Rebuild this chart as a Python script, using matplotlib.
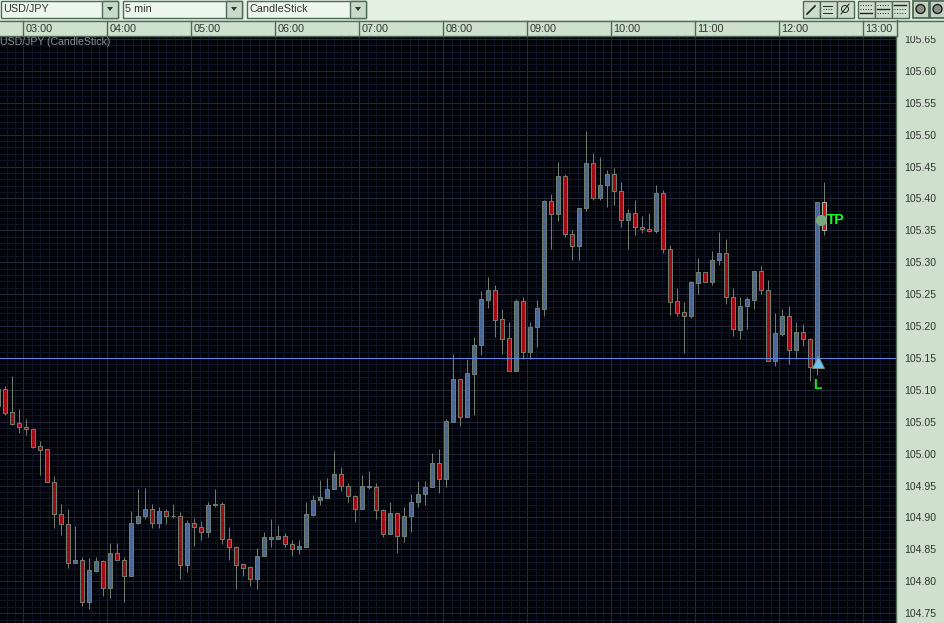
import matplotlib
matplotlib.use('Agg')
import matplotlib.pyplot as plt
import numpy as np
from matplotlib.patches import Rectangle, Circle, Polygon

plt.rcParams['font.family'] = ['Liberation Sans', 'DejaVu Sans']

# bar number of each candle, the first is cut by the left edge
bars = list(range(-1, 118))

opens = [105.074, 105.101, 105.065, 105.048, 105.041, 105.039, 105.012, 105.007, 104.955, 104.905,
         104.889, 104.828, 104.834, 104.767, 104.816, 104.831, 104.789, 104.845, 104.833, 104.809,
         104.892, 104.903, 104.914, 104.892, 104.910, 104.903, 104.903, 104.825, 104.892, 104.885,
         104.878, 104.919, 104.921, 104.867, 104.853, 104.827, 104.822, 104.804, 104.839, 104.867,
         104.867, 104.871, 104.858, 104.850, 104.854, 104.904, 104.928, 104.931, 104.944, 104.968,
         104.950, 104.934, 104.914, 104.947, 104.947, 104.911, 104.874, 104.907, 104.871, 104.903,
         104.924, 104.936, 104.947, 104.985, 104.961, 105.050, 105.117, 105.058, 105.125, 105.171,
         105.241, 105.256, 105.211, 105.181, 105.129, 105.240, 105.160, 105.198, 105.227, 105.396,
         105.375, 105.435, 105.345, 105.325, 105.385, 105.455, 105.401, 105.421, 105.439, 105.411,
         105.366, 105.377, 105.356, 105.352, 105.349, 105.408, 105.320, 105.239, 105.222, 105.216,
         105.268, 105.284, 105.269, 105.303, 105.314, 105.245, 105.194, 105.231, 105.241, 105.287,
         105.256, 105.145, 105.188, 105.215, 105.162, 105.190, 105.179, 105.136, 105.394]

highs = [105.105, 105.106, 105.122, 105.070, 105.054, 105.040, 105.020, 105.007, 104.965, 104.921,
         104.914, 104.887, 104.838, 104.837, 104.838, 104.834, 104.860, 104.860, 104.838, 104.910,
         104.944, 104.946, 104.921, 104.916, 104.914, 104.921, 104.908, 104.896, 104.899, 104.895,
         104.924, 104.944, 104.924, 104.885, 104.856, 104.827, 104.822, 104.852, 104.877, 104.898,
         104.888, 104.875, 104.864, 104.865, 104.924, 104.935, 104.959, 104.962, 105.004, 104.979,
         104.954, 104.935, 104.967, 104.973, 104.954, 104.914, 104.924, 104.907, 104.916, 104.937,
         104.957, 104.957, 105.001, 105.008, 105.054, 105.156, 105.117, 105.148, 105.183, 105.255,
         105.277, 105.264, 105.227, 105.206, 105.242, 105.246, 105.206, 105.241, 105.398, 105.407,
         105.457, 105.438, 105.350, 105.385, 105.506, 105.471, 105.465, 105.444, 105.447, 105.425,
         105.383, 105.398, 105.372, 105.377, 105.421, 105.413, 105.327, 105.259, 105.237, 105.270,
         105.306, 105.284, 105.318, 105.347, 105.337, 105.259, 105.245, 105.245, 105.287, 105.294,
         105.272, 105.220, 105.226, 105.232, 105.206, 105.203, 105.181, 105.394, 105.425]

lows = [105.070, 105.060, 105.045, 105.033, 105.030, 105.009, 104.967, 104.955, 104.883, 104.872,
        104.821, 104.828, 104.762, 104.756, 104.814, 104.777, 104.774, 104.833, 104.768, 104.809,
        104.889, 104.897, 104.884, 104.884, 104.890, 104.899, 104.804, 104.814, 104.856, 104.865,
        104.870, 104.917, 104.859, 104.834, 104.788, 104.808, 104.793, 104.788, 104.839, 104.854,
        104.867, 104.853, 104.839, 104.843, 104.854, 104.903, 104.919, 104.931, 104.944, 104.942,
        104.924, 104.893, 104.914, 104.944, 104.898, 104.870, 104.874, 104.845, 104.861, 104.877,
        104.917, 104.919, 104.947, 104.939, 104.947, 105.050, 105.044, 105.058, 105.060, 105.155,
        105.228, 105.183, 105.156, 105.129, 105.129, 105.149, 105.149, 105.167, 105.216, 105.320,
        105.364, 105.339, 105.304, 105.304, 105.381, 105.397, 105.397, 105.386, 105.390, 105.356,
        105.320, 105.342, 105.346, 105.347, 105.346, 105.315, 105.218, 105.216, 105.158, 105.212,
        105.251, 105.269, 105.264, 105.295, 105.235, 105.185, 105.179, 105.195, 105.226, 105.251,
        105.145, 105.138, 105.185, 105.141, 105.149, 105.169, 105.114, 105.124, 105.342]

closes = [105.101, 105.064, 105.047, 105.041, 105.039, 105.011, 105.006, 104.955, 104.905, 104.889,
          104.828, 104.834, 104.767, 104.817, 104.831, 104.789, 104.845, 104.833, 104.809, 104.892,
          104.903, 104.914, 104.892, 104.910, 104.903, 104.902, 104.825, 104.892, 104.885, 104.878,
          104.919, 104.921, 104.867, 104.853, 104.826, 104.821, 104.804, 104.839, 104.869, 104.869,
          104.871, 104.858, 104.850, 104.855, 104.905, 104.928, 104.932, 104.944, 104.968, 104.950,
          104.934, 104.914, 104.949, 104.949, 104.911, 104.874, 104.907, 104.871, 104.903, 104.924,
          104.936, 104.947, 104.985, 104.961, 105.051, 105.117, 105.058, 105.126, 105.171, 105.242,
          105.256, 105.210, 105.180, 105.129, 105.240, 105.160, 105.198, 105.228, 105.396, 105.375,
          105.435, 105.345, 105.325, 105.385, 105.455, 105.401, 105.421, 105.439, 105.411, 105.366,
          105.377, 105.356, 105.352, 105.349, 105.408, 105.320, 105.238, 105.221, 105.216, 105.269,
          105.284, 105.269, 105.303, 105.314, 105.245, 105.195, 105.231, 105.242, 105.287, 105.256,
          105.145, 105.189, 105.215, 105.162, 105.190, 105.179, 105.136, 105.394, 105.350]

hour_labels = ['03:00', '04:00', '05:00', '06:00', '07:00', '08:00', '09:00', '10:00', '11:00', '12:00', '13:00']
hour_bars = [2.6, 14.6, 26.6, 38.6, 50.6, 62.6, 74.6, 86.6, 98.6, 110.6, 122.6]
price_ticks = [104.75, 104.80, 104.85, 104.90, 104.95, 105.00, 105.05, 105.10, 105.15,
               105.20, 105.25, 105.30, 105.35, 105.40, 105.45, 105.50, 105.55, 105.60, 105.65]
level = 105.15
entry_bar, entry_price = 116.07, 105.144
tp_bar, tp_price = 116.5, 105.366

W, H = 945, 623
PX = 0.72
STRIP = '#cfe0cd'
TOOL = '#e4f1e2'
EDGE = '#4f6b58'
TXT = '#30352f'

fig = plt.figure(figsize=(W / 100, H / 100), dpi=100, facecolor=STRIP)

ax = fig.add_axes([0, 0, 896 / W, (H - 37) / H], facecolor='#03030a')
ax.set_xlim(-0.757, 127.243)
ax.set_ylim(104.7346, 105.653)

# fine grid, 6 minutes and 0.01, heavier on hours and 0.05
for x in np.arange(hour_bars[0] - 12, 128, 1.2):
    ax.axvline(x, color='#0c1426', lw=PX, zorder=1)
for y in np.arange(104.73, 105.66, 0.01):
    ax.axhline(y, color='#0d1426', lw=PX, zorder=1)
for x in [hour_bars[0] - 12] + hour_bars:
    ax.axvline(x, color='#24263a', lw=PX, zorder=1.1)
for y in price_ticks:
    ax.axhline(y, color='#24263a', lw=PX, zorder=1.1)

ax.axhline(level, color='#5f86e6', lw=PX, zorder=5)

# candles
ax.vlines(bars, lows, highs, color='#6f7d70', lw=PX, zorder=2)
tops = [max(o, c) for o, c in zip(opens, closes)]
bots = [min(o, c) for o, c in zip(opens, closes)]
cols = ['#4a6796' if c >= o else '#a00a10' for o, c in zip(opens, closes)]
cols[-1] = '#d01212'
edges = ['#6f7d70'] * len(bars)
edges[-1] = '#a8b4a8'
ax.bar(bars, np.array(tops) - np.array(bots), bottom=bots, width=4 / 7, color=cols,
       edgecolor=edges, linewidth=PX, zorder=3)

ax.plot([tp_bar], [tp_price], 'o', ms=8, color='#79a97c', mec='none', zorder=6)
ax.plot([entry_bar], [entry_price], '^', ms=8, color='#6cc4f4', mec='#7d8a80', mew=PX, zorder=6)
ax.annotate('TP', (tp_bar, tp_price), xytext=(4.5, 0), textcoords='offset points', color='#19ff19',
            fontsize=10, fontweight='bold', va='center', ha='left', zorder=7)
ax.annotate('L', (entry_bar, entry_price), xytext=(0, -17), textcoords='offset points', color='#19e619',
            fontsize=10, fontweight='bold', va='center', ha='center', zorder=7)
fig.text(0, 1 - 42 / H, 'USD/JPY (CandleStick)', color='#8b8c92', fontsize=7.6, va='center', zorder=8)

ax.set_xticks([])
ax.yaxis.tick_right()
ax.set_yticks(price_ticks, labels=['%.2f' % p for p in price_ticks])
ax.tick_params(axis='y', length=0, pad=6, labelsize=7.6, labelcolor=TXT)
for s in ax.spines.values():
    s.set_visible(False)
ax.spines['right'].set_visible(True)
ax.spines['right'].set_color(EDGE)
ax.spines['right'].set_linewidth(1)

# toolbar and time strip, drawn on top in pixel coordinates
top = fig.add_axes([0, 0, 1, 1], facecolor='none', zorder=10)
top.set_xlim(0, W)
top.set_ylim(H, 0)
top.axis('off')
top.add_patch(Rectangle((0, 0), W, 20, fc=TOOL, ec='none'))
top.add_patch(Rectangle((0, 20), W, 16, fc=STRIP, ec='none'))
top.plot([0, W], [20.5, 20.5], color=EDGE, lw=1)
top.plot([0, 896], [35.5, 35.5], color=EDGE, lw=1)
top.plot([896.5, 896.5], [20, 36], color=EDGE, lw=1)

for x0, x1, label in [(0.5, 118, 'USD/JPY'), (122.5, 242, '5 min'), (246.5, 366, 'CandleStick')]:
    top.add_patch(Rectangle((x0, 0.5), x1 - x0, 17, fc='#edf6ec', ec=EDGE, lw=1))
    top.add_patch(Rectangle((x1 - 16, 0.5), 16, 17, fc='#c9dac8', ec=EDGE, lw=1))
    top.add_patch(Polygon([(x1 - 11, 7), (x1 - 5, 7), (x1 - 8, 11)], fc='#33382f', ec='none'))
    top.text(x0 + 2.5, 9.5, label, color=TXT, fontsize=7.8, va='center', ha='left')

# chart tool buttons
for x0 in [802, 819, 836, 857, 874, 891]:
    top.add_patch(Rectangle((x0 + 0.5, 0.5), 17, 17, fc='#cddccb', ec=EDGE, lw=1))
top.plot([807, 815], [14, 6], color='#20251f', lw=1.2)
top.plot([823, 832], [6, 6], color='#20251f', lw=0.7)
top.plot([823, 832], [9, 9], color='#20251f', lw=0.7, ls=':')
top.plot([823, 832], [13, 13], color='#20251f', lw=0.7)
top.add_patch(Circle((845, 9), 3.5, fc='none', ec='#20251f', lw=0.7))
top.plot([841, 849], [14, 4], color='#20251f', lw=0.7)
for x0, solid in [(857, 13), (874, 9), (891, 5)]:
    for yy in [5, 9, 13]:
        top.plot([x0 + 3, x0 + 15], [yy, yy], color='#20251f', lw=1 if yy == solid else 0.7,
                 ls='-' if yy == solid else ':')
for x0 in [912, 929]:
    top.add_patch(Rectangle((x0 + 0.5, 0.5), 16, 17, fc='#c3d3c1', ec=EDGE, lw=1.3))
    top.add_patch(Circle((x0 + 8.5, 9), 4.5, fc='#8a8f88', ec='#1c1f1b', lw=1))

# hour ticks use the chart's own x scale
to_px = ax.transData
for b, lab in zip(hour_bars, hour_labels):
    xp = to_px.transform((b, 105))[0]
    top.plot([xp, xp], [21, 35], color=EDGE, lw=1)
    top.text(xp + 2, 28.5, lab, color=TXT, fontsize=7.8, va='center', ha='left')

fig.savefig('out.png', dpi=100, facecolor=fig.get_facecolor())
